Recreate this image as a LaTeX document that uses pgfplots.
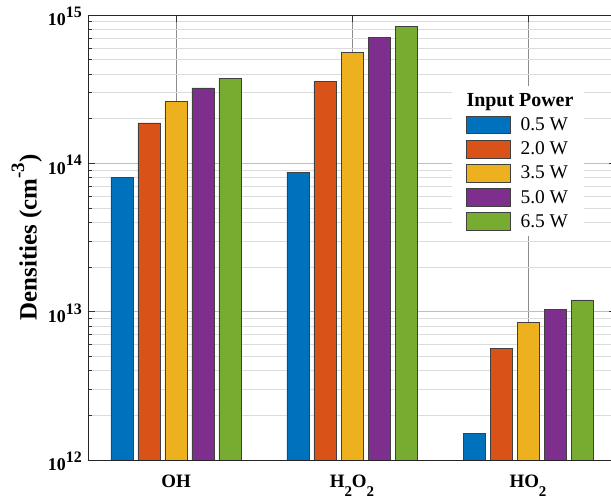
\documentclass[border=0pt]{standalone}
\usepackage{fontspec}
\setmainfont{Liberation Serif}
\usepackage{pgfplots}
\pgfplotsset{compat=1.18}
\definecolor{c1}{rgb}{0,0.447,0.741}
\definecolor{c2}{rgb}{0.850,0.325,0.098}
\definecolor{c3}{rgb}{0.929,0.694,0.125}
\definecolor{c4}{rgb}{0.494,0.184,0.556}
\definecolor{c5}{rgb}{0.466,0.674,0.188}
\newcommand{\sub}[1]{\raisebox{-0.45em}{\fontsize{15}{15}\selectfont #1}}
\newcommand{\decade}[1]{10\raisebox{0.47em}{\fontsize{16}{16}\selectfont #1}}
\pgfplotsset{mylegimg/.style={legend image code/.code={\draw[##1] (0bp,-8.85bp) rectangle (44bp,8.85bp);}}}
\begin{document}
\begin{tikzpicture}
\begin{axis}[
  scale only axis, width=528bp, height=445bp,
  ymode=log, ymin=1e12, ymax=1e15, log origin=infty,
  xmin=-0.5, xmax=2.5,
  ybar=5bp, bar width=22bp,
  xtick={0,1,2}, xticklabels={OH, H\sub{2}O\sub{2}, HO\sub{2}},
  ytick={1e12,1e13,1e14,1e15},
  yticklabels={\decade{12},\decade{13},\decade{14},\decade{15}},
  xmajorgrids, ymajorgrids, yminorgrids,
  major x grid style={black!45, line width=0.6bp},
  major y grid style={black!25, line width=0.6bp},
  minor y grid style={black!14, line width=0.6bp},
  axis line style={black!85, line width=0.8bp},
  tick align=inside, major tick length=7bp, minor tick length=4bp,
  tick style={black!80, line width=0.6bp},
  xticklabel style={font=\fontsize{19}{19}\selectfont\bfseries, anchor=north, inner sep=0pt, yshift=-15bp},
  yticklabel style={font=\fontsize{18}{18}\selectfont\bfseries, anchor=base east, inner sep=0pt, xshift=-6bp, yshift=-11bp},
  ylabel={Densities (cm\raisebox{0.5em}{\fontsize{19}{19}\selectfont -3})},
  every axis y label/.style={at={(rel axis cs:0,0.5)}, xshift=-51.3bp, rotate=90, anchor=base, font=\fontsize{25}{25}\selectfont\bfseries},
  legend style={at={(rel axis cs:0.689,0.840)}, anchor=north west, draw=none, fill=white,
    font=\fontsize{19.5}{19.5}\selectfont, inner xsep=14bp, inner ysep=5bp, row sep=5.8bp,
    /tikz/every odd column/.append style={column sep=8bp}},
  legend cell align=left,
]
\coordinate (sw) at (rel axis cs:0,0);
\coordinate (ne) at (rel axis cs:1,1);
\addlegendimage{empty legend}
\addlegendentry{\makebox[0pt][l]{\hspace{-54bp}\fontsize{20}{20}\selectfont\bfseries Input Power}}
\addplot[fill=c1, draw=black!75, line width=0.6bp, mylegimg] coordinates {(0,8.0e13) (1,8.7e13) (2,1.52e12)};
\addlegendentry{0.5 W}
\addplot[fill=c2, draw=black!75, line width=0.6bp, mylegimg] coordinates {(0,1.87e14) (1,3.57e14) (2,5.67e12)};
\addlegendentry{2.0 W}
\addplot[fill=c3, draw=black!75, line width=0.6bp, mylegimg] coordinates {(0,2.60e14) (1,5.60e14) (2,8.43e12)};
\addlegendentry{3.5 W}
\addplot[fill=c4, draw=black!75, line width=0.6bp, mylegimg] coordinates {(0,3.22e14) (1,7.10e14) (2,1.04e13)};
\addlegendentry{5.0 W}
\addplot[fill=c5, draw=black!75, line width=0.6bp, mylegimg] coordinates {(0,3.74e14) (1,8.40e14) (2,1.20e13)};
\addlegendentry{6.5 W}
\end{axis}
\pgfresetboundingbox
\path ([shift={(-88bp,-39bp)}]sw) rectangle ([shift={(-5bp,15bp)}]ne);
\end{tikzpicture}
\end{document}
